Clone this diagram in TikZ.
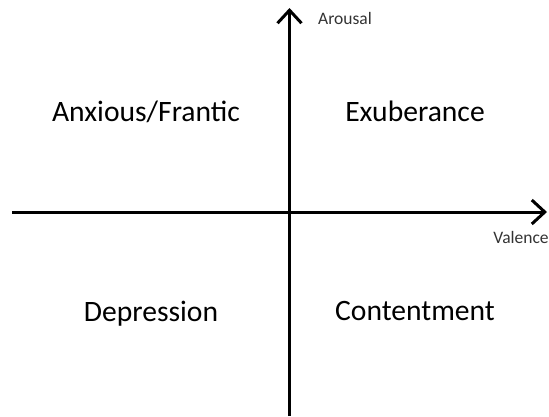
\documentclass[tikz,border=0pt]{standalone}
\usepackage{fontspec}
\setmainfont{Carlito}
\usepackage{tikz}
\usetikzlibrary{arrows.meta,positioning}

\tikzset{
    axis/.style={line width=3pt, -{Straight Barb[length=13pt, width=24pt, line width=3pt]}},
    quad/.style={anchor=base, font=\fontsize{29.6}{36}\selectfont},
    axlabel/.style={anchor=base, font=\fontsize{17.5}{21}\selectfont, text=black!80}
}

\begin{document}
\begin{tikzpicture}[x=1pt, y=-1pt]
    \useasboundingbox (0,0) rectangle (549,416);
    % axis end points
    \coordinate (vlo) at (289.5,416);
    \coordinate (vhi) at (289.5,8);
    \coordinate (hlo) at (12,212);
    \coordinate (hhi) at (547,212);
    \draw[axis] (hlo) -- (hhi);
    \draw[axis] (vlo) -- (vhi);
    % axis labels
    \node[axlabel] (arousal) at (345,24) {Arousal};
    \node[axlabel] (valence) at (521,243) {Valence};
    % quadrants
    \node[quad] (anxious) at (146,121) {Anxious/Frantic};
    \node[quad] (exuber) at (415,121) {Exuberance};
    \node[quad] (depress) at (151,321) {Depression};
    \node[quad] (content) at (415,320) {Contentment};
\end{tikzpicture}
\end{document}
